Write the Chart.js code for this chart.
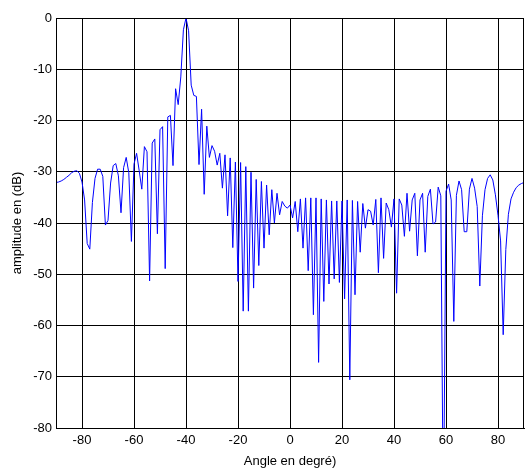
<!DOCTYPE html>
<html>
<head>
<meta charset="utf-8">
<script src="https://cdn.jsdelivr.net/npm/chart.js@4/dist/chart.umd.min.js"></script>
<style>
html,body{margin:0;padding:0;background:#fff;}
#c{display:block;}
</style>
</head>
<body>
<canvas id="c" width="526" height="472"></canvas>
<script>
// Angles (degrees), one sample per degree
const angles = [];
for (let a = -90; a <= 90; a++) angles.push(a);

// Amplitude in dB
const amplitudeDb = [
  -32.1, -32.0, -31.8, -31.5, -31.1, -30.7, -30.2, -29.9, -29.8, -30.3, // -90..-81
  -32.0, -35.5, -44.0, -45.1, -36.0, -31.3, -29.5, -29.5, -30.9, -40.4, // -80..-71
  -39.5, -32.2, -28.8, -28.4, -30.8, -38.0, -29.2, -27.2, -30.2, -43.6, // -70..-61
  -28.5, -26.4, -29.8, -33.4, -25.1, -26.1, -51.3, -24.4, -23.6, -42.1, // -60..-51
  -21.8, -21.2, -48.9, -19.3, -19.0, -28.8, -13.8, -16.9, -11.5, -2.3,  // -50..-41
  0.0,   -2.5,  -13.1, -15.1, -15.3, -28.6, -17.8, -34.4, -21.1, -27.2, // -40..-31
  -24.9, -26.0, -28.7, -26.4, -33.2, -26.7, -38.6, -27.3, -44.8, -28.1, // -30..-21
  -51.4, -28.2, -57.2, -29.0, -57.2, -30.1, -52.7, -31.5, -48.3, -31.9, // -20..-11
  -44.9, -32.6, -42.3, -33.5, -40.0, -34.2, -38.4, -35.8, -36.7, -37.1, // -10..-1
  -36.5, -39.0, -35.8, -41.7, -35.3, -44.9, -35.1, -49.3, -35.1, -57.9, // 0..9
  -35.1, -67.2, -35.3, -55.3, -35.5, -51.9, -35.7, -50.9, -35.7, -51.6, // 10..19
  -35.7, -54.8, -35.5, -70.6, -35.6, -54.0, -35.8, -45.7, -36.2, -41.0, // 20..29
  -37.4, -37.7, -40.4, -35.4, -49.7, -35.1, -46.9, -36.1, -37.4, -40.8, // 30..39
  -35.3, -53.7, -35.3, -36.5, -42.6, -34.2, -41.6, -35.5, -34.2, -46.4, // 40..49
  -35.5, -34.2, -45.7, -34.8, -33.4, -40.2, -39.8, -33.0, -34.7, -100.0, // 50..59
  -33.8, -32.4, -35.5, -59.2, -34.6, -31.8, -33.5, -41.7, -41.7, -33.4, // 60..69
  -31.3, -33.2, -36.8, -52.3, -38.6, -33.5, -31.3, -30.6, -31.6, -34.5, // 70..79
  -38.5, -43.5, -61.8, -45.2, -38.3, -35.3, -34.0, -33.1, -32.6, -32.3, // 80..89
  -32.1                                                                  // 90
];

const xTickValues = [-80, -60, -40, -20, 0, 20, 40, 60, 80];
const yTickValues = [0, -10, -20, -30, -40, -50, -60, -70, -80];

const FONT = "'Liberation Sans', Arial, Helvetica, sans-serif";

const frame = {
  id: 'frame',
  afterDraw(chart) {
    const {ctx, chartArea: a} = chart;
    ctx.save();
    ctx.strokeStyle = '#000';
    ctx.lineWidth = 1;
    ctx.strokeRect(Math.round(a.left) + 0.5, Math.round(a.top) + 0.5,
                   Math.round(a.right - a.left) - 1, Math.round(a.bottom - a.top));
    ctx.restore();
  }
};

new Chart(document.getElementById('c'), {
  type: 'line',
  data: {
    datasets: [{
      data: angles.map((a, i) => ({x: a, y: amplitudeDb[i]})),
      borderColor: '#0000ff',
      borderWidth: 1,
      pointRadius: 0,
      tension: 0,
      fill: false
    }]
  },
  options: {
    responsive: false,
    animation: false,
    devicePixelRatio: 1,
    layout: {padding: {top: 18, right: 2, left: 0, bottom: 0}},
    plugins: {legend: {display: false}, tooltip: {enabled: false}},
    scales: {
      x: {
        type: 'linear',
        min: -90, max: 90,
        afterBuildTicks: s => { s.ticks = xTickValues.map(v => ({value: v})); },
        afterFit: s => { s.height = 44; },
        grid: {color: '#000', lineWidth: 1, drawTicks: false},
        border: {display: true, color: '#000', width: 1},
        ticks: {color: '#000', font: {family: FONT, size: 13}, padding: 5, maxRotation: 0},
        title: {display: true, text: 'Angle en degré)', color: '#000',
                font: {family: FONT, size: 13}, padding: {top: 0, bottom: 3}}
      },
      y: {
        type: 'linear',
        min: -80, max: 0,
        afterBuildTicks: s => { s.ticks = yTickValues.map(v => ({value: v})); },
        afterFit: s => { s.width = 56; },
        grid: {color: '#000', lineWidth: 1, drawTicks: false},
        border: {display: true, color: '#000', width: 1},
        ticks: {color: '#000', font: {family: FONT, size: 13}, padding: 4},
        title: {display: true, text: 'amplitude en (dB)', color: '#000',
                font: {family: FONT, size: 13}, padding: {top: 10, bottom: 0}}
      }
    }
  },
  plugins: [frame]
});
</script>
</body>
</html>
